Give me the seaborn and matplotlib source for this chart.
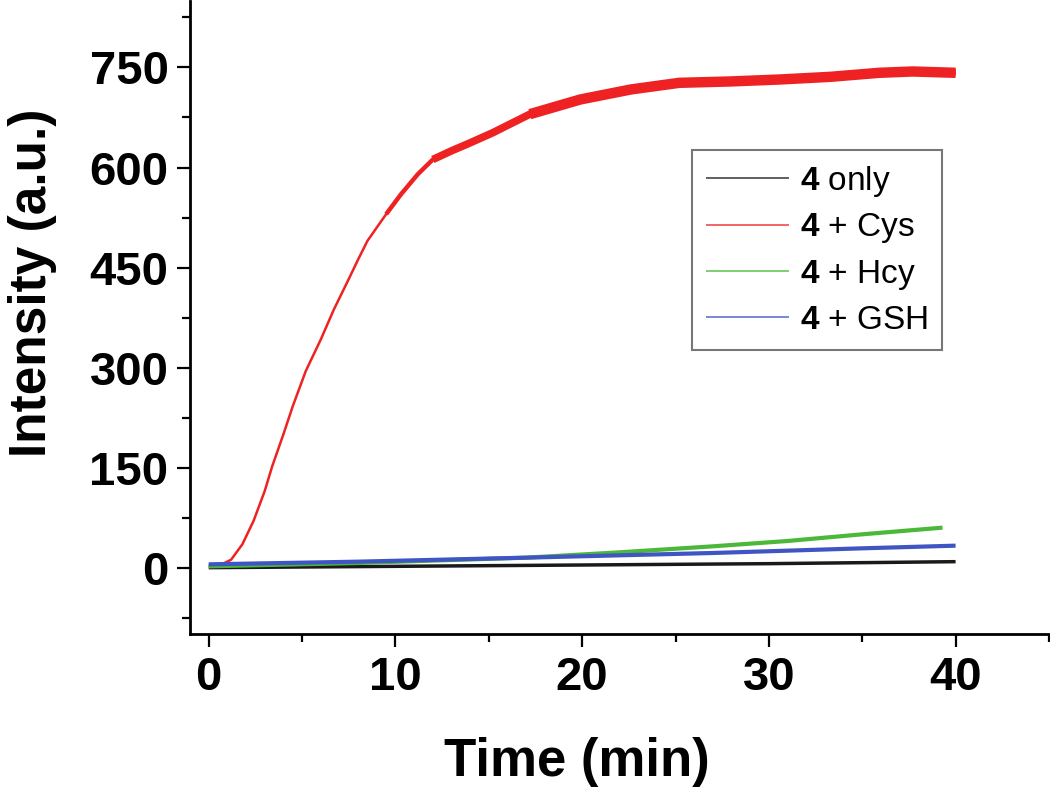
#!/usr/bin/env python3
"""
Fluorescence intensity of probe 4 over time with Cys, Hcy and GSH.
Values read off the reference figure.
"""

import pandas as pd
import matplotlib.pyplot as plt
import seaborn as sns
from matplotlib.ticker import MultipleLocator

# Time (min) / intensity (a.u.) pairs for each series
only_t = [0, 10, 20, 30, 40]
only_i = [0, 2, 4, 6, 9]

cys_t = [0.0, 0.7, 1.2, 1.8, 2.4, 3.0, 3.4, 4.0, 4.5, 5.2, 6.0, 6.7, 7.4,
         8.0, 8.5, 9.5, 10.3, 11.2, 12.0, 13.0, 14.0, 15.2, 17.2, 19.9,
         22.6, 25.2, 27.9, 30.6, 33.3, 35.9, 37.7, 40.0]
cys_i = [3, 5, 12, 35, 70, 115, 152, 200, 242, 295, 342, 387, 427,
         462, 490, 530, 560, 590, 612, 625, 637, 652, 680, 702,
         717, 727, 729, 732, 736, 742, 744, 742]

hcy_t = [0, 8, 17, 22, 27, 31, 35, 39.3]
hcy_i = [2, 7, 15, 23, 32, 40, 50, 60]

gsh_t = [0, 8, 17, 27, 35, 40]
gsh_i = [5, 9, 15, 22, 29, 33]

labels = [r'$\mathbf{4}$ only', r'$\mathbf{4}$ + Cys',
          r'$\mathbf{4}$ + Hcy', r'$\mathbf{4}$ + GSH']
colors = ['#1a1a1a', '#ee2222', '#4cb83a', '#3f55c4']

x_ticks = [0, 10, 20, 30, 40]
y_ticks = [0, 150, 300, 450, 600, 750]


def main():
    sns.set_style('ticks')
    plt.rcParams['font.family'] = ['Liberation Sans', 'DejaVu Sans']
    plt.rcParams['mathtext.fontset'] = 'custom'
    plt.rcParams['mathtext.rm'] = 'Liberation Sans'
    plt.rcParams['mathtext.bf'] = 'Liberation Sans:bold'
    for key in ['text.color', 'axes.labelcolor', 'xtick.color', 'ytick.color']:
        plt.rcParams[key] = 'black'

    fig = plt.figure(figsize=(10.5, 7.89), dpi=100)
    ax = fig.add_axes([0.181, 0.196, 0.818, 0.803])

    series = [(only_t, only_i), (cys_t, cys_i), (hcy_t, hcy_i), (gsh_t, gsh_i)]
    widths = [2.5, 1.8, 3.0, 3.0]
    for (t, y), lab, c, w in zip(series, labels, colors, widths):
        sns.lineplot(x=t, y=y, color=c, lw=w, label=lab, ax=ax, sort=False,
                     solid_capstyle='butt')

    # the Cys trace is noisy on the plateau; thicken it there to mimic the band
    cys = pd.DataFrame({'t': cys_t, 'i': cys_i})
    for start, w in [(9.5, 3.2), (12.0, 5.5), (17.2, 7.5)]:
        part = cys[cys['t'] >= start]
        sns.lineplot(data=part, x='t', y='i', color=colors[1], lw=w,
                     ax=ax, sort=False, legend=False, solid_capstyle='butt')

    ax.set_xlim(-1, 45)
    ax.set_ylim(-100, 850)
    ax.set_xticks(x_ticks)
    ax.set_yticks(y_ticks)
    ax.xaxis.set_minor_locator(MultipleLocator(5))
    ax.yaxis.set_minor_locator(MultipleLocator(75))

    sns.despine(ax=ax)
    for side in ['left', 'bottom']:
        ax.spines[side].set_linewidth(2.0)
        ax.spines[side].set_color('black')

    ax.tick_params(which='major', direction='out', length=9.5, width=1.6,
                   labelsize=34, pad=6)
    ax.tick_params(which='minor', direction='out', length=6, width=1.6)
    for lab in ax.get_xticklabels() + ax.get_yticklabels():
        lab.set_fontweight('bold')

    ax.set_xlabel('Time (min)', fontsize=38, fontweight='bold')
    ax.set_ylabel('Intensity (a.u.)', fontsize=37, fontweight='bold')
    ax.xaxis.set_label_coords(0.45, -0.162)
    ax.yaxis.set_label_coords(-0.155, 0.555)

    leg = ax.legend(loc='upper left', bbox_to_anchor=(0.584, 0.765),
                    fontsize=24, frameon=True, fancybox=False,
                    handlelength=2.5, handletextpad=0.32, labelspacing=0.38,
                    borderpad=0.42, borderaxespad=0)
    leg.get_frame().set_edgecolor('#555555')
    leg.get_frame().set_linewidth(1.5)
    for line in leg.get_lines():
        line.set_linewidth(1.3)
        line.set_alpha(0.75)

    fig.savefig('out.png', dpi=100)


if __name__ == '__main__':
    main()
